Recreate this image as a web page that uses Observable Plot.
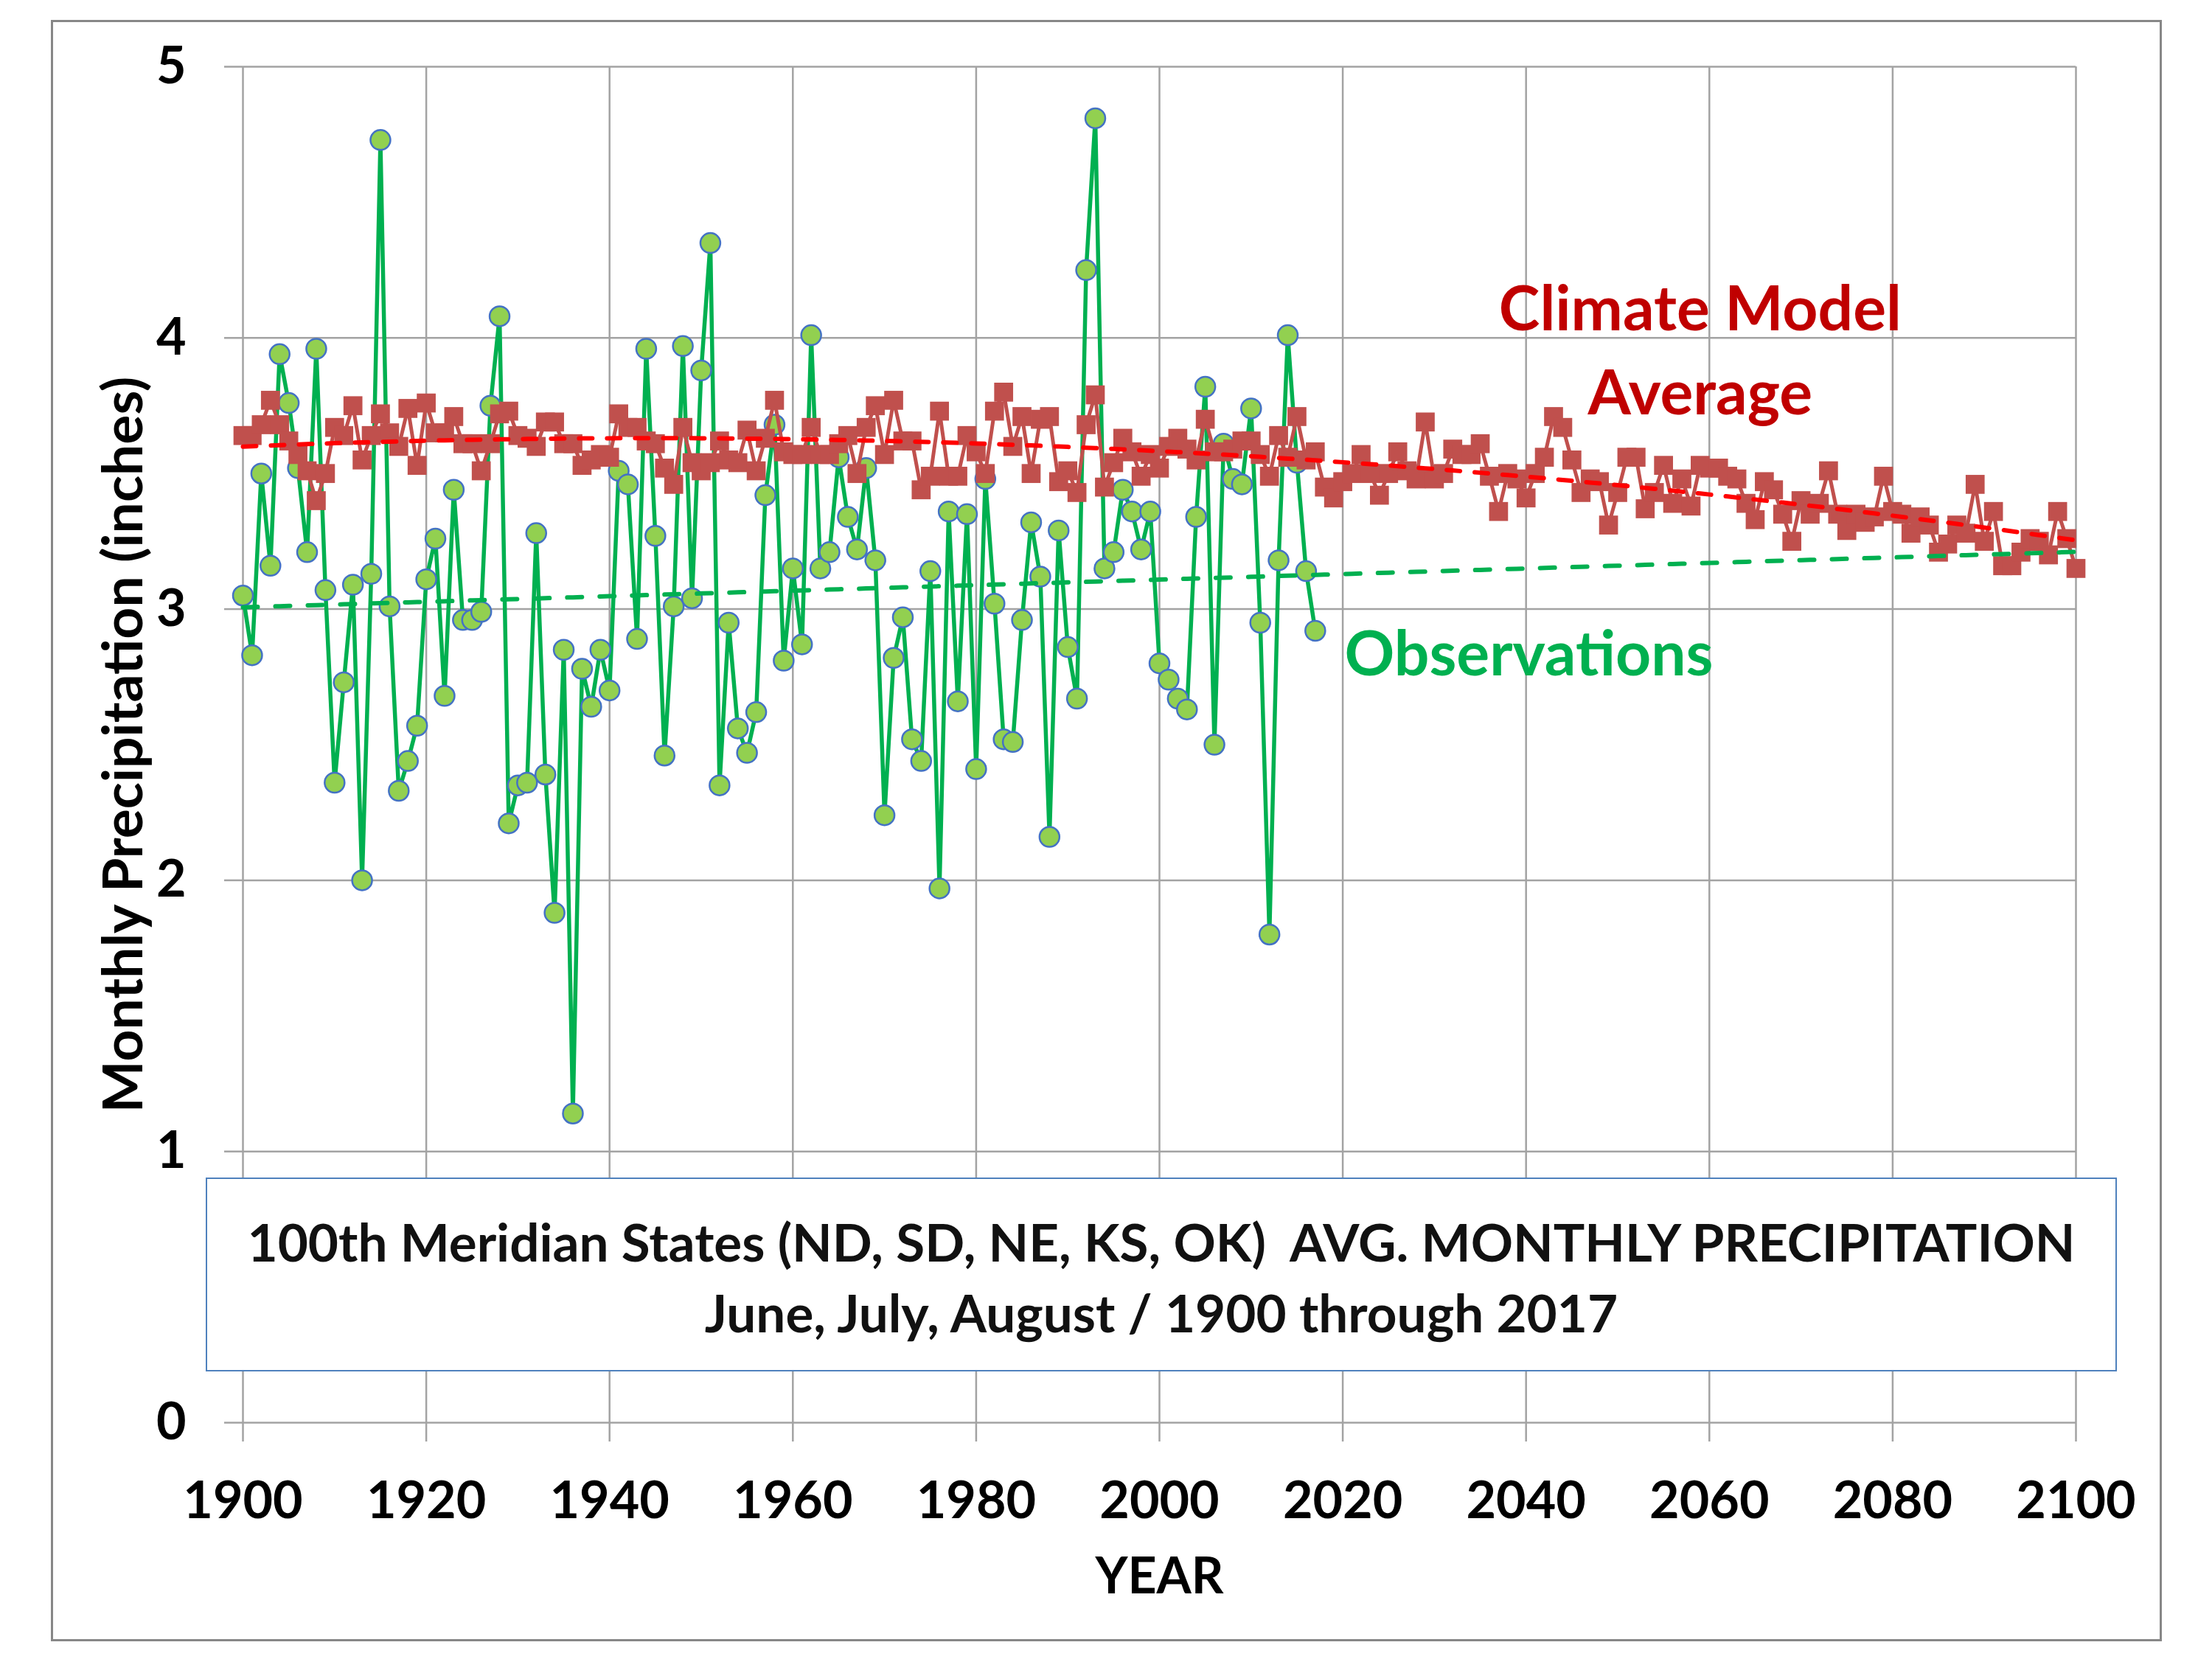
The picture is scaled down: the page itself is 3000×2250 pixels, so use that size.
<!DOCTYPE html>
<html>
<head>
<meta charset="utf-8">
<script src="https://cdn.jsdelivr.net/npm/d3@7"></script>
<script src="https://cdn.jsdelivr.net/npm/@observablehq/plot@0.6"></script>
<style>
  html, body { margin: 0; padding: 0; background: #fff; }
  #wrap { position: relative; width: 3000px; height: 2250px; overflow: hidden; font-family: Lato, "Open Sans", sans-serif; background: #fff; }
  #chart { position: absolute; left: 0; top: 0; }
  #frame { position: absolute; left: 69px; top: 27px; width: 2857px; height: 2193px; border: 3px solid #878787; pointer-events: none; }
  #titlebox { position: absolute; left: 279px; top: 1597px; width: 2588px; height: 253px; border: 2.5px solid #4F81BD; background: #fff;
              display: flex; flex-direction: column; align-items: center; justify-content: center; padding-top: 6px; box-sizing: content-box;
              font-weight: 700; color: #111; font-size: 71px; line-height: 96px; white-space: pre; }
</style>
</head>
<body>
<div id="wrap">
  <div id="chart"></div>
  <div id="titlebox"><div id="t1"></div><div id="t2"></div></div>
  <div id="frame"></div>
</div>
<script>
// ---------- data ----------
const obsStartYear = 1900;
const obsValues = [
  3.05, 2.83, 3.50, 3.16, 3.94, 3.76, 3.52, 3.21, 3.96, 3.07,
  2.36, 2.73, 3.09, 2.00, 3.13, 4.73, 3.01, 2.33, 2.44, 2.57,
  3.11, 3.26, 2.68, 3.44, 2.96, 2.96, 2.99, 3.75, 4.08, 2.21,
  2.35, 2.36, 3.28, 2.39, 1.88, 2.85, 1.14, 2.78, 2.64, 2.85,
  2.70, 3.51, 3.46, 2.89, 3.96, 3.27, 2.46, 3.01, 3.97, 3.04,
  3.88, 4.35, 2.35, 2.95, 2.56, 2.47, 2.62, 3.42, 3.68, 2.81,
  3.15, 2.87, 4.01, 3.15, 3.21, 3.56, 3.34, 3.22, 3.52, 3.18,
  2.24, 2.82, 2.97, 2.52, 2.44, 3.14, 1.97, 3.36, 2.66, 3.35,
  2.41, 3.48, 3.02, 2.52, 2.51, 2.96, 3.32, 3.12, 2.16, 3.29,
  2.86, 2.67, 4.25, 4.81, 3.15, 3.21, 3.44, 3.36, 3.22, 3.36,
  2.80, 2.74, 2.67, 2.63, 3.34, 3.82, 2.50, 3.61, 3.48, 3.46,
  3.74, 2.95, 1.80, 3.18, 4.01, 3.54, 3.14, 2.92
];
const modelStartYear = 1900;
const modelValues = [
  3.64, 3.64, 3.68, 3.77, 3.68, 3.62, 3.57, 3.51, 3.40, 3.50,
  3.67, 3.64, 3.75, 3.55, 3.64, 3.72, 3.65, 3.60, 3.74, 3.53,
  3.76, 3.65, 3.65, 3.71, 3.61, 3.61, 3.51, 3.61, 3.72, 3.73,
  3.64, 3.63, 3.60, 3.69, 3.69, 3.61, 3.61, 3.53, 3.55, 3.57,
  3.56, 3.72, 3.67, 3.67, 3.62, 3.61, 3.52, 3.46, 3.67, 3.54,
  3.51, 3.54, 3.62, 3.55, 3.54, 3.66, 3.51, 3.63, 3.77, 3.58,
  3.57, 3.57, 3.67, 3.57, 3.57, 3.61, 3.64, 3.50, 3.67, 3.75,
  3.57, 3.77, 3.62, 3.62, 3.44, 3.49, 3.73, 3.49, 3.49, 3.64,
  3.58, 3.50, 3.73, 3.80, 3.60, 3.71, 3.50, 3.70, 3.71, 3.47,
  3.51, 3.43, 3.68, 3.79, 3.45, 3.54, 3.63, 3.58, 3.49, 3.57,
  3.52, 3.60, 3.63, 3.59, 3.55, 3.70, 3.58, 3.58, 3.59, 3.62,
  3.62, 3.57, 3.49, 3.64, 3.56, 3.71, 3.55, 3.58, 3.45, 3.41,
  3.47, 3.50, 3.57, 3.50, 3.42, 3.50, 3.58, 3.51, 3.48, 3.69,
  3.48, 3.50, 3.59, 3.57, 3.57, 3.61, 3.49, 3.36, 3.50, 3.48,
  3.41, 3.50, 3.56, 3.71, 3.67, 3.55, 3.43, 3.48, 3.47, 3.31,
  3.43, 3.56, 3.56, 3.37, 3.43, 3.53, 3.39, 3.48, 3.38, 3.53,
  3.52, 3.52, 3.49, 3.48, 3.39, 3.33, 3.47, 3.44, 3.35, 3.25,
  3.40, 3.35, 3.39, 3.51, 3.35, 3.29, 3.35, 3.32, 3.34, 3.49,
  3.36, 3.35, 3.28, 3.34, 3.31, 3.21, 3.24, 3.31, 3.28, 3.46,
  3.25, 3.36, 3.16, 3.16, 3.21, 3.26, 3.25, 3.20, 3.36, 3.26,
  3.15
];
const xTicks = [1900, 1920, 1940, 1960, 1980, 2000, 2020, 2040, 2060, 2080, 2100];
const yTicks = [0, 1, 2, 3, 4, 5];
const titleLine1 = "100th Meridian States (ND, SD, NE, KS, OK)  AVG. MONTHLY PRECIPITATION";
const titleLine2 = "June, July, August / 1900 through 2017";
const yLabel = "Monthly Precipitation (inches)";
const xLabel = "YEAR";

// ---------- tables ----------
const obs = obsValues.map((v, i) => ({year: obsStartYear + i, value: v}));
const model = modelValues.map((v, i) => ({year: modelStartYear + i, value: v}));

// linear trend of observations (extended to 2100, as an Excel trendline)
function linearFit(xs, ys) {
  const mx = d3.mean(xs), my = d3.mean(ys);
  let sxy = 0, sxx = 0;
  for (let i = 0; i < xs.length; i++) { sxy += (xs[i] - mx) * (ys[i] - my); sxx += (xs[i] - mx) ** 2; }
  const b = sxy / sxx;
  return x => my + b * (x - mx);
}
// 2nd-order polynomial trend of the model average
function quadFit(xs, ys) {
  const x0 = d3.mean(xs);
  const S = [[0,0,0],[0,0,0],[0,0,0]], T = [0,0,0];
  for (let i = 0; i < xs.length; i++) {
    const t = xs[i] - x0, p = [1, t, t * t];
    for (let a = 0; a < 3; a++) { T[a] += p[a] * ys[i]; for (let b = 0; b < 3; b++) S[a][b] += p[a] * p[b]; }
  }
  const M = S.map((r, i) => [...r, T[i]]);
  for (let c = 0; c < 3; c++) {
    let piv = c; for (let r = c + 1; r < 3; r++) if (Math.abs(M[r][c]) > Math.abs(M[piv][c])) piv = r;
    [M[c], M[piv]] = [M[piv], M[c]];
    for (let r = 0; r < 3; r++) if (r !== c) { const f = M[r][c] / M[c][c]; for (let k = c; k < 4; k++) M[r][k] -= f * M[c][k]; }
  }
  const co = M.map((r, i) => r[3] / r[i]);
  return x => { const t = x - x0; return co[0] + co[1] * t + co[2] * t * t; };
}
const fObs = linearFit(obs.map(d => d.year), obs.map(d => d.value));
const fModel = quadFit(model.map(d => d.year), model.map(d => d.value));
const obsTrend = model.map(d => ({year: d.year, value: fObs(d.year)}));
const modelTrend = model.map(d => ({year: d.year, value: fModel(d.year)}));

const GRID = "#a3a3a3";
const chart = Plot.plot({
  width: 3000, height: 2250,
  marginLeft: 329, marginRight: 185, marginTop: 90, marginBottom: 321,
  x: {domain: [1900, 2100]},
  y: {domain: [0, 5]},
  style: {fontFamily: "Lato, 'Open Sans', sans-serif", background: "white", color: "black", overflow: "visible"},
  marks: [
    Plot.gridX({ticks: xTicks, stroke: GRID, strokeOpacity: 1, strokeWidth: 2.5}),
    Plot.gridY({ticks: yTicks, stroke: GRID, strokeOpacity: 1, strokeWidth: 2.5}),
    Plot.axisX({ticks: xTicks, tickFormat: d => String(d), tickSize: 26, tickPadding: 54, fontSize: 70, fontWeight: 700,
                stroke: GRID, strokeWidth: 2.5, fill: "black", label: null}),
    Plot.axisY({ticks: yTicks, tickFormat: d => String(d), tickSize: 25, tickPadding: 52, fontSize: 70, fontWeight: 700,
                stroke: GRID, strokeWidth: 2.5, fill: "black", label: null}),
    Plot.line(obs, {x: "year", y: "value", stroke: "#00B050", strokeWidth: 5.5}),
    Plot.dot(obs, {x: "year", y: "value", r: 13.5, fill: "#92D050", stroke: "#4472C4", strokeWidth: 2.5}),
    Plot.line(model, {x: "year", y: "value", stroke: "#C0504D", strokeWidth: 5}),
    Plot.dot(model, {x: "year", y: "value", symbol: "square", r: 14.5, fill: "#C0504D", stroke: "none"}),
    Plot.line(obsTrend, {x: "year", y: "value", stroke: "#00B050", strokeWidth: 6, strokeDasharray: "20,24", strokeLinecap: "round"}),
    Plot.line(modelTrend, {x: "year", y: "value", stroke: "#FF0000", strokeWidth: 6, strokeDasharray: "18,20", strokeLinecap: "round"}),
    Plot.text(["Climate Model"], {x: 2059, y: 4.10, fill: "#C00000", fontSize: 84, fontWeight: 700, lineAnchor: "middle"}),
    Plot.text(["Average"], {x: 2059, y: 3.79, fill: "#C00000", fontSize: 84, fontWeight: 700, lineAnchor: "middle"}),
    Plot.text(["Observations"], {x: 2020.2, y: 2.83, fill: "#00B050", fontSize: 84, fontWeight: 700, textAnchor: "start", lineAnchor: "middle"}),
    Plot.text([xLabel], {frameAnchor: "bottom", dy: 210, fontSize: 68, fontWeight: 700, fill: "black", lineAnchor: "middle"}),
    Plot.text([yLabel], {frameAnchor: "left", dx: -161, rotate: -90, fontSize: 75, fontWeight: 700, fill: "black", textAnchor: "middle", lineAnchor: "middle"})
  ]
});
document.getElementById("chart").appendChild(chart);
document.getElementById("t1").textContent = titleLine1;
document.getElementById("t2").textContent = titleLine2;
</script>
</body>
</html>
